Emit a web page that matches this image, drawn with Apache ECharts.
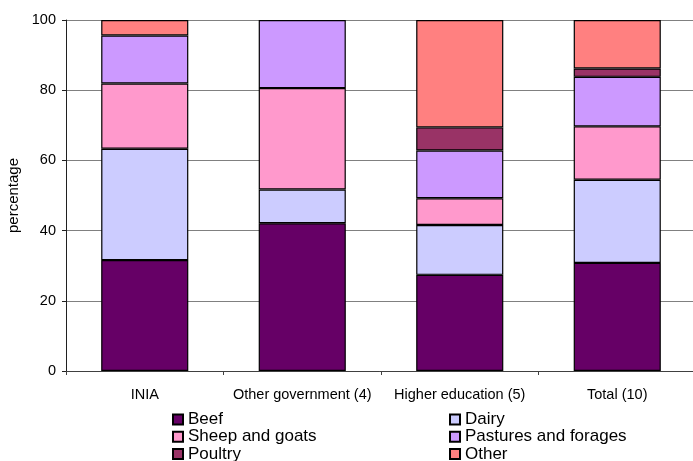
<!DOCTYPE html>
<html>
<head>
<meta charset="utf-8">
<title>Research areas by institution type</title>
<script src="https://cdn.jsdelivr.net/npm/echarts@6/dist/echarts.min.js"></script>
<style>
  html, body { margin: 0; padding: 0; background: #ffffff; }
  #chart { width: 693px; height: 461px; }
</style>
</head>
<body>
<div id="chart"></div>
<script>
// Institution groups along the x axis
const categories = ['INIA', 'Other government (4)', 'Higher education (5)', 'Total (10)'];

// Share of each research area, percent (stacked to 100)
const beef     = [31.6, 42.1, 27.4, 30.8];
const dairy    = [31.7,  9.6, 14.2, 23.7];
const sheep    = [18.6, 28.9,  7.6, 15.2];
const pastures = [13.7, 19.4, 13.6, 14.1];
const poultry  = [ 0.0,  0.0,  6.6,  2.4];
const other    = [ 4.4,  0.0, 30.6, 13.8];

const yTicks = [0, 20, 40, 60, 80, 100];

const seriesDefs = [
  { name: 'Beef', data: beef, color: '#660066' },
  { name: 'Dairy', data: dairy, color: '#CCCCFF' },
  { name: 'Sheep and goats', data: sheep, color: '#FF99CC' },
  { name: 'Pastures and forages', data: pastures, color: '#CC99FF' },
  { name: 'Poultry', data: poultry, color: '#993366' },
  { name: 'Other', data: other, color: '#FF8080' }
];

const font = 'Liberation Sans, Arial, sans-serif';

const chart = echarts.init(document.getElementById('chart'), null, { renderer: 'canvas' });

// Two legend columns, three rows each
const legendCommon = {
  orient: 'vertical',
  top: 411,
  height: 80,
  padding: 0,
  itemWidth: 10,
  itemHeight: 10,
  itemGap: 0.3,
  icon: 'rect',
  selectedMode: false,
  textStyle: { fontFamily: font, fontSize: 17, lineHeight: 16, color: '#000000' }
};

chart.setOption({
  animation: false,
  backgroundColor: '#ffffff',
  textStyle: { fontFamily: font },
  legend: [
    Object.assign({ left: 172, data: ['Beef', 'Sheep and goats', 'Poultry'] }, legendCommon),
    Object.assign({ left: 449, data: ['Dairy', 'Pastures and forages', 'Other'] }, legendCommon)
  ],
  grid: {
    left: 66,
    top: 20,
    width: 630,
    height: 351,
    containLabel: false,
    outerBoundsMode: 'none'
  },
  xAxis: {
    type: 'category',
    data: categories,
    axisLine: { show: true, lineStyle: { color: '#404040', width: 1 } },
    axisTick: { show: true, length: 4, alignWithLabel: false, lineStyle: { color: '#404040' } },
    axisLabel: { fontFamily: font, fontSize: 14.5, color: '#000000', margin: 16, interval: 0 },
    splitLine: { show: false }
  },
  yAxis: {
    type: 'value',
    min: 0,
    max: 100,
    interval: 20,
    name: 'percentage',
    nameLocation: 'middle',
    nameRotate: 90,
    nameGap: 44,
    nameTextStyle: { fontFamily: font, fontSize: 15, color: '#000000' },
    axisLine: { show: true, lineStyle: { color: '#202020', width: 1 } },
    axisTick: { show: true, length: 4, inside: false, lineStyle: { color: '#202020' } },
    axisLabel: {
      fontFamily: font, fontSize: 14.5, color: '#000000', margin: 10,
      formatter: v => (yTicks.indexOf(v) >= 0 ? String(v) : '')
    },
    splitLine: { show: true, lineStyle: { color: '#808080', width: 1 } }
  },
  series: seriesDefs.map(s => ({
    name: s.name,
    type: 'bar',
    stack: 'share',
    // empty segments are left out so no zero-height outline is stroked
    data: s.data.map(v => (v === 0 ? null : v)),
    barWidth: '55.3%',
    itemStyle: { color: s.color, borderColor: '#000000', borderWidth: 1.2 },
    emphasis: { disabled: true }
  }))
});
</script>
</body>
</html>
